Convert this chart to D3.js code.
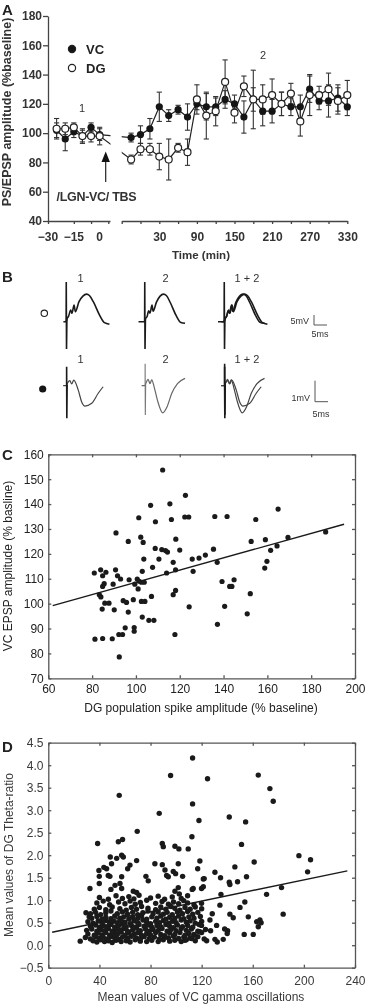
<!DOCTYPE html>
<html>
<head>
<meta charset="utf-8">
<script src="https://cdn.jsdelivr.net/npm/d3@7"></script>
<style>
  body { margin: 0; background: #fff; }
  svg { display: block; font-family: "Liberation Sans", Arial, sans-serif; will-change: transform; }
</style>
</head>
<body>
<div id="canvas"></div>
<script>
"use strict"

/*Size of the canvas*/
let svgWidth = 365;
let svgHeight = 1005;

/* ---------- Panel A data (PS/EPSP amplitude, % baseline) ---------- */
let preTimes = [-25, -20, -15, -10, -5, 0];
let vcPre = [102, 96, 101, 98, 104, 99];
let vcPreErr = [5, 8, 4, 4, 3, 4];
let dgPre = [103, 103, 104, 98, 98, 98];
let dgPreErr = [7, 4, 3, 5, 4, 6];

let postTimes = [-15, 0, 15, 30, 45, 60, 75, 90, 105, 120, 135, 150, 165, 180, 195, 210, 225, 240, 255, 270, 285, 300, 315, 330];
let vcPost = [97, 99, 103, 118, 112, 116, 111, 120, 118, 118, 123, 120, 111, 123, 115, 115, 120, 118, 118, 130, 122, 122, 124, 118];
let vcPostErr = [3, 6, 7, 10, 4, 3, 9, 4, 9, 6, 6, 6, 11, 20, 10, 8, 8, 6, 8, 9, 6, 11, 9, 6];
let dgPost = [82, 89, 89, 84, 82, 90, 87, 123, 112, 115, 135, 114, 132, 123, 123, 126, 120, 127, 108, 126, 126, 130, 122, 126];
let dgPostErr = [3, 4, 4, 9, 14, 3, 9, 10, 16, 10, 15, 7, 7, 8, 10, 11, 8, 7, 10, 14, 6, 11, 9, 10];

let aYTicks = [40, 60, 80, 100, 120, 140, 160, 180];
let preTickMarks = [-30, -15, -5, 5];
let preTickLabels = [-30, -15, 0];
let postTickMarks = [-30, 0, 30, 60, 90, 120, 150, 180, 210, 240, 270, 300, 330];
let postTickLabels = [30, 90, 150, 210, 270, 330];
let legendNames = ["VC", "DG"];

/* ---------- Panel B data (traces: [ms, mV]) ---------- */
let dgArtifact = [[0.05, 0], [0.1, 19.9], [0.2, -13.7], [0.35, 1.2]];
let dgTrace1 = [[-1, 0], [0, 0], [0.4, 1.5], [1.0, 2.8], [1.8, 5.8], [2.3, 4.2], [3.1, 8.3], [3.6, 5.0], [5.0, 10.0], [6.5, 12.8], [7.9, 13.8], [9.0, 13.1], [10.5, 10.0], [12.9, 3.3], [14.8, -0.5], [16.7, -1.3]];
let dgTrace2 = [[-2.3, 0], [0, 0], [0.4, 1.5], [1.0, 2.6], [1.6, 5.5], [2.1, 4.3], [2.9, 8.3], [3.3, 5.2], [4.6, 9.8], [6.0, 12.8], [7.3, 13.8], [8.4, 13.1], [9.9, 9.6], [12.2, 3.0], [14.0, -0.4], [15.6, -0.8]];
let vcArtifact1 = [[0.05, 0], [0.05, 0.9], [0.12, -1.55], [0.25, 0.05]];
let vcArtifact2 = [[0.05, 0], [0.05, 1.05], [0.12, -1.4], [0.25, 0.05]];
let vcTrace1 = [[-1.3, 0], [0, 0], [0.3, 0.1], [1.3, 0.24], [2.0, 0.08], [2.8, 0.27], [4.5, -0.2], [5.8, -0.76], [7.1, -0.97], [9.7, -0.84], [12.2, -0.36], [14.1, -0.05]];
let vcTrace2 = [[-1.3, 0], [0, 0], [0.3, 0.1], [1.2, 0.3], [1.9, 0.1], [2.6, 0.28], [3.6, -0.1], [4.8, -0.7], [6.8, -1.29], [8.5, -1.0], [10.3, -0.36], [12.5, 0.1], [15.4, 0.35]];
let traceLabels = ["1", "2", "1 + 2"];
let dgColumns = [[dgTrace1], [dgTrace2], [dgTrace1, dgTrace2]];
let vcColumns = [[vcTrace1], [vcTrace2], [vcTrace1, vcTrace2]];
let vcArtifacts = [[vcArtifact1], [vcArtifact2], [vcArtifact1, vcArtifact2]];

/* ---------- Panel C data (DG PS % baseline, VC EPSP % baseline) ---------- */
let cPoints = [
  [112.2, 153.7],
  [106.7, 139.5], [115.5, 140.1], [122.6, 143.5], [101.3, 134.5], [108.9, 132.9], [116.2, 133.8], [122.3, 134.8], [124.1, 134.8], [136, 135], [141.6, 135], [154.7, 133.8], [164.9, 138],
  [90.9, 128.4], [96.5, 125], [102.2, 126.7], [103.3, 124.6], [118.2, 125.9], [152.6, 125], [159.1, 125.7], [169.4, 126.6], [186.6, 128.8],
  [108.8, 122.2], [110.5, 117.9], [111.8, 121.7], [113.5, 121.3], [114.4, 120.7], [120, 121.5], [135.4, 121.9], [161.5, 121.4], [164.4, 123.2], [159.8, 117], [158.8, 114.3],
  [125.7, 117.9], [128.8, 118.3], [131.7, 119.5], [137.1, 116.6], [126.1, 113], [103.6, 117.9], [107.6, 114.6], [102.9, 113], [117, 116.6], [118.1, 113.6], [114, 112.3],
  [139.3, 108.9], [142.8, 106.9], [143.8, 106.9], [144.8, 109.6],
  [81, 112.3], [83.9, 113.6], [84.8, 111.2], [86.3, 112.6], [90.7, 113.6], [91.6, 111.2], [93, 109.9], [85.5, 108], [84.8, 106.9], [89.6, 107.8], [96.9, 109.6], [100.6, 109.9], [101.5, 109], [101, 105.9], [102.5, 108.6], [103.8, 108.6], [99.5, 107.8],
  [83.3, 103.6], [84, 102.7], [85.8, 100.2], [87.7, 100.2], [94.2, 101.2], [95.7, 100.5], [98.8, 101.6], [102.5, 100.9], [104.1, 100.9], [107.1, 102.9], [84.6, 97.8], [90.1, 97.5], [96.5, 96.6], [117, 103.6], [118.1, 105.3], [124.3, 98.7], [152.2, 104], [150.8, 95.9], [140.5, 98.9],
  [102.9, 94.6], [105.9, 93.3], [108.2, 93.3],
  [81.3, 85.7], [84.8, 86], [89.2, 85.9], [92.2, 87.6], [93.9, 87.6], [95.1, 90.3], [99.2, 90.4], [99.2, 88.9], [117.8, 87.6], [92.4, 78.6], [137.2, 91.7]
];
let cXTicks = [60, 80, 100, 120, 140, 160, 180, 200];
let cYTicks = [70, 80, 90, 100, 110, 120, 130, 140, 150, 160];
let cFit = [[62, 99.2], [195, 131.9]];

/* ---------- Panel D data (VC gamma, DG theta-ratio) ---------- */
let dSparse = [
  [112.9, 4.16], [95.7, 3.77], [124.6, 3.70], [164.3, 3.78], [173.4, 3.48], [176, 3.2], [55.5, 3.33], [112.9, 3.14], [86.8, 2.93], [117.9, 2.77],
  [141.6, 2.85], [154.4, 2.74], [69.6, 2.53], [38.6, 2.26], [54.8, 2.30], [58.1, 2.35], [112.4, 2.41], [89.2, 2.26], [90, 2.19], [99.1, 2.2],
  [102.2, 2.14], [109.5, 2.14], [151.2, 2.24], [196.1, 1.99], [205.2, 1.90], [57.4, 2.0], [58.7, 1.96], [48.5, 1.96], [53.5, 1.93], [49.5, 1.81],
  [43.5, 1.73], [39.6, 1.66], [45.6, 1.70], [63.9, 1.78], [62.1, 1.70], [69.1, 1.88], [83.4, 1.81], [89.2, 1.79], [91.3, 1.67], [97.8, 1.64],
  [99.6, 1.59], [101.7, 1.81], [116.9, 1.70], [118.6, 1.87], [130.4, 1.62], [146, 1.74], [161.1, 1.85], [202.9, 1.63], [39.9, 1.53], [48.2, 1.53],
  [76.4, 1.53], [57.4, 1.52], [93.9, 1.52], [105.1, 1.53], [121.3, 1.47], [134.8, 1.50], [155.1, 1.52],
  [32.6, 1.26], [39.9, 1.37], [46.9, 1.55], [49, 1.24], [52.2, 1.33], [56.1, 1.37], [57.4, 1.26], [66.5, 1.2], [78.2, 1.43], [92.6, 1.55],
  [99.1, 1.2], [101.7, 1.28], [102.5, 1.14], [113.4, 1.26], [119.9, 1.26], [122, 1.48], [141.6, 1.40], [142.1, 1.35], [69.1, 1.17],
  [183.8, 0.69], [182.5, 1.28], [170.8, 1.13], [148.1, 1.41], [142.1, 0.69], [150, 0.84], [153.8, 0.96], [156.5, 0.63], [165.6, 0.56], [164.3, 0.41],
  [160.4, 0.24], [153.3, 0.24], [144.7, 0.61], [140.3, 0.32], [138, 0.36], [140, 0.26], [136.9, 0.13], [132.2, 0.07], [123.9, 0.10], [126.5, 0.56],
  [127, 0.32], [128.3, 0.70], [134.3, 0.89], [135.1, 1.13], [119.9, 0.93], [121.3, 1.3], [112.6, 1.24], [131.7, 0.44], [119.9, 0.44], [118.6, 0.3],
  [114, 0.22], [112.1, 0.15], [106.9, 0.11], [166.5, 0.5], [163, 0.52], [130.4, 0.13], [29.5, 0.72], [32, 0.63]
];
let dCluster = [
  [25, 0.09], [35, 0.1], [38, 0.07], [41, 0.12], [44, 0.08], [47, 0.1], [50, 0.06], [53, 0.11], [57, 0.08], [61, 0.1], [64, 0.07], [68, 0.12], [72, 0.09], [77, 0.08], [81, 0.11], [86, 0.08], [90, 0.12], [95, 0.09], [99, 0.11], [104, 0.08], [108, 0.12], [115, 0.1],
  [29, 0.17], [33, 0.14], [37, 0.19], [40, 0.15], [43, 0.18], [46, 0.14], [49, 0.19], [52, 0.16], [55, 0.13], [58, 0.18], [62, 0.15], [65, 0.2], [69, 0.16], [72, 0.14], [75, 0.19], [79, 0.15], [83, 0.18], [87, 0.14], [91, 0.19], [94, 0.16], [98, 0.2], [102, 0.15], [106, 0.18], [111, 0.16], [117, 0.19], [122, 0.14],
  [31, 0.25], [36, 0.22], [39, 0.27], [42, 0.23], [45, 0.28], [48, 0.22], [51, 0.26], [54, 0.24], [57, 0.29], [60, 0.22], [63, 0.27], [67, 0.24], [70, 0.28], [73, 0.22], [77, 0.26], [80, 0.23], [84, 0.28], [88, 0.24], [91, 0.21], [95, 0.27], [99, 0.24], [103, 0.28], [107, 0.22], [110, 0.26], [114, 0.24], [120, 0.28],
  [30, 0.33], [34, 0.36], [38, 0.31], [41, 0.35], [44, 0.32], [47, 0.37], [50, 0.31], [53, 0.35], [56, 0.33], [59, 0.37], [62, 0.31], [66, 0.34], [69, 0.38], [72, 0.32], [76, 0.36], [79, 0.31], [82, 0.35], [86, 0.33], [89, 0.37], [93, 0.31], [96, 0.35], [100, 0.32], [104, 0.37], [108, 0.33], [112, 0.36], [117, 0.31], [123, 0.35],
  [33, 0.42], [37, 0.45], [40, 0.4], [43, 0.44], [46, 0.41], [49, 0.46], [52, 0.4], [55, 0.43], [58, 0.47], [61, 0.41], [65, 0.44], [68, 0.4], [71, 0.46], [75, 0.42], [78, 0.45], [81, 0.4], [85, 0.44], [88, 0.41], [92, 0.46], [95, 0.42], [98, 0.39], [101, 0.45], [105, 0.41], [109, 0.44], [113, 0.4], [118, 0.46],
  [31, 0.52], [35, 0.49], [39, 0.54], [42, 0.5], [45, 0.55], [48, 0.49], [51, 0.53], [54, 0.5], [57, 0.55], [60, 0.51], [64, 0.48], [67, 0.54], [70, 0.5], [74, 0.56], [77, 0.51], [80, 0.48], [84, 0.53], [87, 0.5], [90, 0.55], [94, 0.49], [97, 0.53], [100, 0.5], [104, 0.56], [108, 0.51], [111, 0.54], [115, 0.49], [120, 0.53],
  [34, 0.6], [38, 0.64], [42, 0.58], [45, 0.62], [49, 0.59], [52, 0.65], [56, 0.6], [59, 0.63], [63, 0.58], [66, 0.62], [70, 0.6], [73, 0.65], [77, 0.58], [81, 0.63], [85, 0.6], [88, 0.65], [92, 0.58], [95, 0.62], [99, 0.6], [102, 0.65], [106, 0.59], [110, 0.63], [114, 0.6], [119, 0.64],
  [33, 0.7], [37, 0.73], [41, 0.68], [45, 0.72], [49, 0.76], [54, 0.7], [58, 0.74], [62, 0.69], [66, 0.73], [70, 0.68], [74, 0.72], [78, 0.76], [82, 0.7], [86, 0.74], [90, 0.69], [93, 0.73], [97, 0.68], [101, 0.74], [105, 0.7], [109, 0.75], [113, 0.69], [117, 0.73],
  [36, 0.8], [40, 0.84], [45, 0.79], [50, 0.85], [56, 0.81], [61, 0.78], [65, 0.84], [69, 0.8], [73, 0.86], [78, 0.82], [84, 0.79], [88, 0.85], [92, 0.8], [96, 0.86], [99, 0.82], [103, 0.78], [107, 0.84], [111, 0.8], [115, 0.85], [120, 0.81],
  [38, 0.94], [43, 0.98], [48, 0.9], [55, 0.96], [60, 0.92], [64, 0.98], [68, 0.91], [72, 0.95], [77, 1.0], [84, 0.93], [89, 0.97], [94, 0.91], [98, 0.96], [102, 0.92], [106, 0.99], [109, 0.94], [114, 0.9],
  [40, 1.06], [47, 1.02], [53, 1.1], [58, 1.04], [63, 1.08], [67, 1.03], [71, 1.11], [80, 1.05], [86, 1.09], [91, 1.02], [97, 1.07], [104, 1.04], [109, 1.1]
];
let dXTicks = [0, 40, 80, 120, 160, 200, 240];
let dYTicks = [-0.5, 0, 0.5, 1, 1.5, 2, 2.5, 3, 3.5, 4, 4.5];
let dFit = [[3, 0.289], [234, 1.652]];

/*The canvas*/
let svg = d3.select("#canvas")
    .append("svg")
    .attr("width", svgWidth)
    .attr("height", svgHeight);

/*Restyle an axis that d3 drew*/
function styleAxis(g, size, weight, color, stroke, strokeWidth) {
    g.attr("font-family", null).attr("font-size", null);
    g.selectAll(".domain, .tick line").attr("stroke", stroke).attr("stroke-width", strokeWidth);
    g.selectAll("text")
        .style("font-size", size + "px")
        .style("font-weight", weight)
        .attr("fill", color);
}

/*Panel letters*/
let panelLetters = [["A", 15], ["B", 282], ["C", 460], ["D", 752]];
panelLetters.forEach(function (p) {
    svg.append("text")
        .attr("x", 2)
        .attr("y", p[1])
        .style("font-size", "15px")
        .style("font-weight", "bold")
        .attr("fill", "#222")
        .text(p[0]);
});

/* ================= Panel A ================= */
let yA = d3.scaleLinear().domain([40, 180]).range([221, 16]);
let xPre = d3.scaleLinear().domain([-30, 6]).range([48, 110]);
let xPost = d3.scaleLinear().domain([-30, 330]).range([121.7, 347.3]);

let yAxisA = svg.append("g")
    .attr("transform", "translate(48,0)")
    .call(d3.axisLeft(yA).tickValues(aYTicks).tickSize(5).tickSizeOuter(0).tickPadding(1));
styleAxis(yAxisA, 12, "bold", "#333", "#444", 1.3);

let preAxis = svg.append("g")
    .attr("transform", "translate(0,221)")
    .call(d3.axisBottom(xPre).tickValues(preTickMarks).tickSize(3).tickSizeOuter(0).tickFormat(""));
styleAxis(preAxis, 12, "bold", "#333", "#444", 1.3);

preTickLabels.forEach(function (v) {
    svg.append("text")
        .attr("x", xPre(v))
        .attr("y", 241)
        .attr("text-anchor", "middle")
        .style("font-size", "12px")
        .style("font-weight", "bold")
        .attr("fill", "#333")
        .text(d3.format("d")(v));
});

let postAxis = svg.append("g")
    .attr("transform", "translate(0,221)")
    .call(d3.axisBottom(xPost).tickValues(postTickMarks).tickSize(3).tickSizeOuter(0).tickPadding(8.5)
        .tickFormat(function (d) { return postTickLabels.includes(d) ? d : ""; }));
styleAxis(postAxis, 12, "bold", "#333", "#444", 1.3);

svg.append("text")
    .attr("x", 201)
    .attr("y", 259)
    .attr("text-anchor", "middle")
    .style("font-size", "11.5px")
    .style("font-weight", "bold")
    .attr("fill", "#333")
    .text("Time (min)");

svg.append("text")
    .attr("transform", "translate(11,112) rotate(-90)")
    .attr("text-anchor", "middle")
    .style("font-size", "12.5px")
    .style("font-weight", "bold")
    .attr("fill", "#333")
    .text("PS/EPSP amplitude (%baseline)");

/*Build the series from the arrays*/
function makeSeries(pre, preErr, post, postErr) {
    let s = preTimes.map(function (t, i) {
        return { x: xPre(t), v: pre[i], e: preErr[i] };
    });
    return s.concat(postTimes.map(function (t, i) {
        return { x: xPost(t), v: post[i], e: postErr[i] };
    }));
}
let vcSeries = makeSeries(vcPre, vcPreErr, vcPost, vcPostErr);
let dgSeries = makeSeries(dgPre, dgPreErr, dgPost, dgPostErr);

/*Clip the lines at the axis break*/
let clip = svg.append("clipPath").attr("id", "breakClip");
clip.append("rect").attr("x", 0).attr("y", 0).attr("width", 110.5).attr("height", 260);
clip.append("rect").attr("x", 121.7).attr("y", 0).attr("width", 250).attr("height", 260);

let lineA = d3.line()
    .x(function (d) { return d.x; })
    .y(function (d) { return yA(d.v); });

[vcSeries, dgSeries].forEach(function (s) {
    svg.append("path")
        .datum(s)
        .attr("d", lineA)
        .attr("fill", "none")
        .attr("stroke", "#222")
        .attr("stroke-width", 1.2)
        .attr("clip-path", "url(#breakClip)");
});

/*Error bars*/
[vcSeries, dgSeries].forEach(function (s) {
    let g = svg.append("g").attr("stroke", "#333").attr("stroke-width", 1.1);
    s.forEach(function (d) {
        g.append("line").attr("x1", d.x).attr("x2", d.x).attr("y1", yA(d.v - d.e)).attr("y2", yA(d.v + d.e));
        g.append("line").attr("x1", d.x - 2.6).attr("x2", d.x + 2.6).attr("y1", yA(d.v + d.e)).attr("y2", yA(d.v + d.e));
        g.append("line").attr("x1", d.x - 2.6).attr("x2", d.x + 2.6).attr("y1", yA(d.v - d.e)).attr("y2", yA(d.v - d.e));
    });
});

/*Markers: VC filled, DG open*/
svg.append("g").selectAll("circle")
    .data(vcSeries)
    .join("circle")
    .attr("cx", function (d) { return d.x; })
    .attr("cy", function (d) { return yA(d.v); })
    .attr("r", 3.6)
    .attr("fill", "#151515");

svg.append("g").selectAll("circle")
    .data(dgSeries)
    .join("circle")
    .attr("cx", function (d) { return d.x; })
    .attr("cy", function (d) { return yA(d.v); })
    .attr("r", 3.5)
    .attr("fill", "white")
    .attr("stroke", "#222")
    .attr("stroke-width", 1.2);

/*Legend*/
legendNames.forEach(function (name, i) {
    let cy = 49 + i * 19;
    svg.append("circle")
        .attr("cx", 72)
        .attr("cy", cy)
        .attr("r", 3.6)
        .attr("fill", i === 0 ? "#151515" : "white")
        .attr("stroke", "#222")
        .attr("stroke-width", 1.2);
    svg.append("text")
        .attr("x", 86)
        .attr("y", cy + 4.5)
        .style("font-size", "13px")
        .style("font-weight", "bold")
        .attr("fill", "#222")
        .text(name);
});

/*Period labels*/
svg.append("text").attr("x", 82).attr("y", 112).attr("text-anchor", "middle")
    .style("font-size", "11px").attr("fill", "#333").text("1");
svg.append("text").attr("x", 263).attr("y", 58.5).attr("text-anchor", "middle")
    .style("font-size", "11px").attr("fill", "#333").text("2");

/*Arrow for the tetanus*/
svg.append("line")
    .attr("x1", 105.7).attr("x2", 105.7).attr("y1", 182).attr("y2", 160)
    .attr("stroke", "#222").attr("stroke-width", 1.2);
svg.append("path")
    .attr("d", "M105.7,151.5 L101.5,162 L109.9,162 Z")
    .attr("fill", "#111");
svg.append("text")
    .attr("x", 56.5)
    .attr("y", 201)
    .style("font-size", "12.5px")
    .style("font-weight", "bold")
    .style("letter-spacing", "-0.3px")
    .attr("fill", "#333")
    .text("/LGN-VC/ TBS");

/* ================= Panel B ================= */
let msScale = d3.scaleLinear().domain([0, 5]).range([0, 13]);
let dgMv = d3.scaleLinear().domain([0, 5]).range([0, -10]);
let vcMv = d3.scaleLinear().domain([0, 1]).range([0, -21]);
let columnX = [66, 144.5, 224];
let labelX = [80.5, 165.5, 247];

let dgLine = d3.line()
    .curve(d3.curveMonotoneX)
    .x(function (d) { return msScale(d[0]); })
    .y(function (d) { return dgMv(d[1]); });
let dgSpike = d3.line()
    .x(function (d) { return msScale(d[0]); })
    .y(function (d) { return dgMv(d[1]); });
let vcLine = d3.line()
    .curve(d3.curveMonotoneX)
    .x(function (d) { return msScale(d[0]); })
    .y(function (d) { return vcMv(d[1]); });
let vcSpike = d3.line()
    .x(function (d) { return msScale(d[0]); })
    .y(function (d) { return vcMv(d[1]); });

traceLabels.forEach(function (lab, i) {
    svg.append("text").attr("x", labelX[i]).attr("y", 281.5).attr("text-anchor", "middle")
        .style("font-size", "11px").attr("fill", "#333").text(lab);
    svg.append("text").attr("x", labelX[i]).attr("y", 363).attr("text-anchor", "middle")
        .style("font-size", "11px").attr("fill", "#333").text(lab);

    let gTop = svg.append("g").attr("transform", "translate(" + columnX[i] + ",321.7)");
    dgColumns[i].forEach(function (tr) {
        gTop.append("path").datum(tr).attr("d", dgLine)
            .attr("fill", "none").attr("stroke", "#1a1a1a").attr("stroke-width", 1.6)
            .attr("stroke-linejoin", "round");
    });
    gTop.append("path").datum(dgArtifact).attr("d", dgSpike)
        .attr("fill", "none").attr("stroke", "#1a1a1a").attr("stroke-width", 1.6);

    let gBot = svg.append("g").attr("transform", "translate(" + (columnX[i] + 0.5) + ",385.7)");
    vcColumns[i].forEach(function (tr) {
        gBot.append("path").datum(tr).attr("d", vcLine)
            .attr("fill", "none").attr("stroke", i === 1 ? "#666" : "#444").attr("stroke-width", 1.2)
            .attr("stroke-linejoin", "round");
    });
    vcArtifacts[i].forEach(function (a) {
        gBot.append("path").datum(a).attr("d", vcSpike)
            .attr("fill", "none").attr("stroke", i === 1 ? "#777" : "#1a1a1a").attr("stroke-width", i === 1 ? 1.1 : 1.6);
    });
});

/*Markers that say which row is which*/
svg.append("circle").attr("cx", 44.3).attr("cy", 313.3).attr("r", 3.2)
    .attr("fill", "white").attr("stroke", "#222").attr("stroke-width", 1.1);
svg.append("circle").attr("cx", 42.7).attr("cy", 389).attr("r", 3.6).attr("fill", "#151515");

/*Scale bars*/
function scaleBar(x0, y0, mvScale, mv, mvLabel, msLabelY) {
    svg.append("path")
        .attr("d", "M" + x0 + "," + (y0 + mvScale(mv)) + " L" + x0 + "," + y0 + " L" + (x0 + msScale(5)) + "," + y0)
        .attr("fill", "none").attr("stroke", "#555").attr("stroke-width", 1);
    svg.append("text").attr("x", x0 - 5).attr("y", y0 - 1).attr("text-anchor", "end")
        .style("font-size", "9px").attr("fill", "#333").text(mvLabel);
    svg.append("text").attr("x", x0 + 6).attr("y", msLabelY).attr("text-anchor", "middle")
        .style("font-size", "9px").attr("fill", "#333").text("5ms");
}
scaleBar(314, 325, dgMv, 5, "5mV", 337);
scaleBar(315, 401.7, vcMv, 1, "1mV", 417);

/* ================= Panel C ================= */
let xC = d3.scaleLinear().domain([60, 200]).range([48.3, 355]);
let yC = d3.scaleLinear().domain([70, 160]).range([678.3, 454.3]);

let cBottom = svg.append("g").attr("transform", "translate(0,678.3)")
    .call(d3.axisBottom(xC).tickValues(cXTicks).tickSize(-3).tickSizeOuter(0).tickPadding(6));
let cTop = svg.append("g").attr("transform", "translate(0,454.3)")
    .call(d3.axisTop(xC).tickValues(cXTicks).tickSize(-3).tickSizeOuter(0).tickFormat(""));
let cLeft = svg.append("g").attr("transform", "translate(48.3,0)")
    .call(d3.axisLeft(yC).tickValues(cYTicks).tickSize(-3).tickSizeOuter(0).tickPadding(4.5));
let cRight = svg.append("g").attr("transform", "translate(355,0)")
    .call(d3.axisRight(yC).tickValues(cYTicks).tickSize(-3).tickSizeOuter(0).tickFormat(""));
[cBottom, cTop, cLeft, cRight].forEach(function (g) {
    styleAxis(g, 12, "normal", "#222", "#555", 1.3);
});

svg.append("g").selectAll("circle")
    .data(cPoints)
    .join("circle")
    .attr("cx", function (d) { return xC(d[0]); })
    .attr("cy", function (d) { return yC(d[1]); })
    .attr("r", 2.6)
    .attr("fill", "#1a1a1a");

svg.append("line")
    .attr("x1", xC(cFit[0][0])).attr("y1", yC(cFit[0][1]))
    .attr("x2", xC(cFit[1][0])).attr("y2", yC(cFit[1][1]))
    .attr("stroke", "#1a1a1a").attr("stroke-width", 1.4);

svg.append("text")
    .attr("x", 201).attr("y", 711.5).attr("text-anchor", "middle")
    .style("font-size", "12px").attr("fill", "#222")
    .text("DG population spike amplitude (% baseline)");
svg.append("text")
    .attr("transform", "translate(12,566) rotate(-90)")
    .attr("text-anchor", "middle")
    .style("font-size", "12px").attr("fill", "#222")
    .text("VC EPSP amplitude (% basline)");

/* ================= Panel D ================= */
let xD = d3.scaleLinear().domain([0, 240]).range([48.3, 355]);
let yD = d3.scaleLinear().domain([-0.5, 4.5]).range([967.7, 742.7]);

let dBottom = svg.append("g").attr("transform", "translate(0,967.7)")
    .call(d3.axisBottom(xD).tickValues(dXTicks).tickSize(-3).tickSizeOuter(0).tickPadding(8.5));
let dTop = svg.append("g").attr("transform", "translate(0,742.7)")
    .call(d3.axisTop(xD).tickValues(dXTicks).tickSize(-3).tickSizeOuter(0).tickFormat(""));
let dLeft = svg.append("g").attr("transform", "translate(48.3,0)")
    .call(d3.axisLeft(yD).tickValues(dYTicks).tickSize(-3).tickSizeOuter(0).tickPadding(4.8).tickFormat(d3.format(".1f")));
let dRight = svg.append("g").attr("transform", "translate(355,0)")
    .call(d3.axisRight(yD).tickValues(dYTicks).tickSize(-3).tickSizeOuter(0).tickFormat(""));
[dBottom, dTop, dLeft, dRight].forEach(function (g) {
    styleAxis(g, 12, "normal", "#3a3a3a", "#555", 1.3);
});

svg.append("g").selectAll("circle")
    .data(dCluster.concat(dSparse))
    .join("circle")
    .attr("cx", function (d) { return xD(d[0]); })
    .attr("cy", function (d) { return yD(d[1]); })
    .attr("r", 2.7)
    .attr("fill", "#1a1a1a");

svg.append("line")
    .attr("x1", xD(dFit[0][0])).attr("y1", yD(dFit[0][1]))
    .attr("x2", xD(dFit[1][0])).attr("y2", yD(dFit[1][1]))
    .attr("stroke", "#1a1a1a").attr("stroke-width", 1.4);

svg.append("text")
    .attr("x", 201).attr("y", 1001).attr("text-anchor", "middle")
    .style("font-size", "12px").attr("fill", "#3a3a3a")
    .text("Mean values of VC gamma oscillations");
svg.append("text")
    .attr("transform", "translate(13,855) rotate(-90)")
    .attr("text-anchor", "middle")
    .style("font-size", "12px").attr("fill", "#3a3a3a")
    .text("Mean values of DG Theta-ratio");
</script>
</body>
</html>
